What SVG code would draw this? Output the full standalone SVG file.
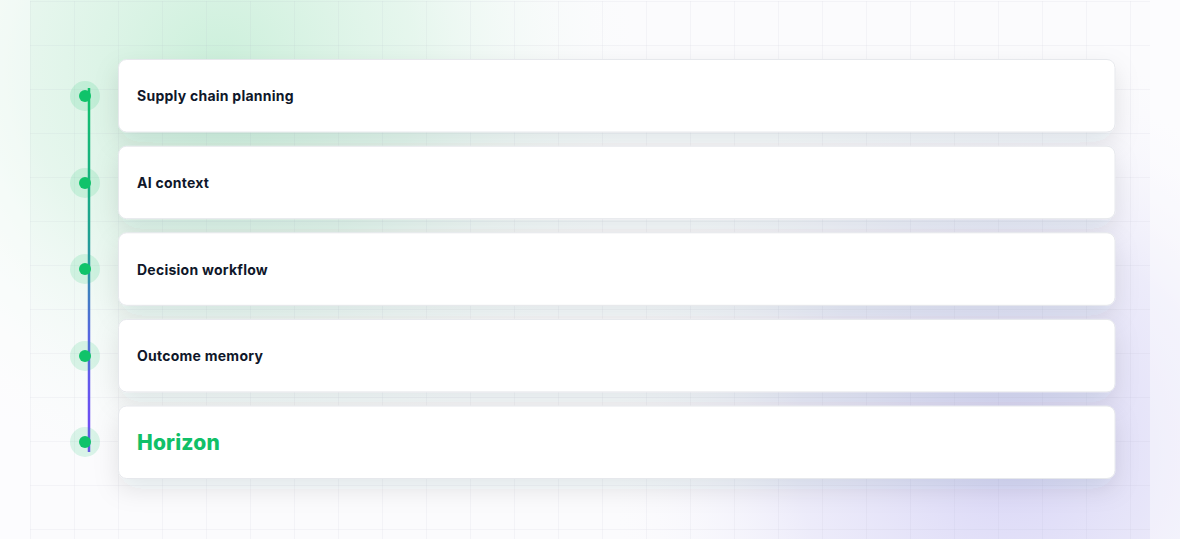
<svg xmlns="http://www.w3.org/2000/svg" width="1180" height="539" viewBox="0 0 1180 539">
  <defs>
    <radialGradient id="gGreen" cx="220" cy="70" r="440" gradientUnits="userSpaceOnUse">
      <stop offset="0" stop-color="#c9efd9" stop-opacity="0.95"/>
      <stop offset="0.45" stop-color="#d8f3e3" stop-opacity="0.6"/>
      <stop offset="1" stop-color="#ffffff" stop-opacity="0"/>
    </radialGradient>
    <radialGradient id="gPurple" cx="1010" cy="450" r="430" gradientUnits="userSpaceOnUse">
      <stop offset="0" stop-color="#d6d3f6" stop-opacity="0.95"/>
      <stop offset="0.5" stop-color="#e3e1f8" stop-opacity="0.6"/>
      <stop offset="1" stop-color="#ffffff" stop-opacity="0"/>
    </radialGradient>
    <linearGradient id="gLine" x1="0" y1="88" x2="0" y2="452" gradientUnits="userSpaceOnUse">
      <stop offset="0" stop-color="#10c36a"/>
      <stop offset="0.4" stop-color="#1fa291"/>
      <stop offset="0.7" stop-color="#5a62e6"/>
      <stop offset="1" stop-color="#7447f7"/>
    </linearGradient>
    <pattern id="grid" x="30" y="1" width="44" height="44" patternUnits="userSpaceOnUse">
      <path d="M0 0H44M0 0V44" fill="none" stroke="#9aa3b5" stroke-opacity="0.16" stroke-width="1"/>
    </pattern>
    <filter id="shadow" x="-10%" y="-60%" width="120%" height="240%">
      <feDropShadow dx="0" dy="10" stdDeviation="12" flood-color="#1e293b" flood-opacity="0.10"/>
    </filter>
    <style>
      .card { fill: #ffffff; stroke: #e6e8ec; stroke-width: 1; filter: url(#shadow); }
      .halo { fill: #10c36a; fill-opacity: 0.14; }
      .dot { fill: #10c36a; }
      .label { font-family: Inter, "Noto Sans", "DejaVu Sans", sans-serif; font-size: 14px; font-weight: 700; fill: #0f172a; letter-spacing: 0.25px; }
      .brand { font-family: Inter, "Noto Sans", "DejaVu Sans", sans-serif; font-size: 21px; font-weight: 800; fill: #10c068; letter-spacing: 0.2px; }
    </style>
  </defs>

  <rect width="1180" height="539" fill="#fbfbfd"/>
  <rect width="1180" height="539" fill="url(#gGreen)"/>
  <rect width="1180" height="539" fill="url(#gPurple)"/>
  <rect x="0" y="0" width="30" height="539" fill="#ffffff" fill-opacity="0.4"/>
  <rect x="1150" y="0" width="30" height="539" fill="#ffffff" fill-opacity="0.4"/>
  <rect x="30" y="1" width="1120" height="538" fill="url(#grid)"/>

  <g id="connectors">
    <line x1="89" y1="88" x2="89" y2="452" stroke="url(#gLine)" stroke-width="2.5"/>
  </g>

  <g id="node-supply">
    <rect class="card" x="118.5" y="59.5" width="996.5" height="72.5" rx="8"/>
    <circle class="halo" cx="85" cy="96" r="15"/>
    <circle class="dot" cx="85" cy="96" r="6"/>
    <text class="label" x="137" y="101">Supply chain planning</text>
  </g>
  <g id="node-ai">
    <rect class="card" x="118.5" y="146.2" width="996.5" height="72.5" rx="8"/>
    <circle class="halo" cx="85" cy="183" r="15"/>
    <circle class="dot" cx="85" cy="183" r="6"/>
    <text class="label" x="137" y="188">AI context</text>
  </g>
  <g id="node-decision">
    <rect class="card" x="118.5" y="232.8" width="996.5" height="72.5" rx="8"/>
    <circle class="halo" cx="85" cy="269" r="15"/>
    <circle class="dot" cx="85" cy="269" r="6"/>
    <text class="label" x="137" y="274.5">Decision workflow</text>
  </g>
  <g id="node-outcome">
    <rect class="card" x="118.5" y="319.4" width="996.5" height="72.5" rx="8"/>
    <circle class="halo" cx="85" cy="356" r="15"/>
    <circle class="dot" cx="85" cy="356" r="6"/>
    <text class="label" x="137" y="361">Outcome memory</text>
  </g>
  <g id="node-horizon">
    <rect class="card" x="118.5" y="406" width="996.5" height="72.5" rx="8"/>
    <circle class="halo" cx="85" cy="442" r="15"/>
    <circle class="dot" cx="85" cy="442" r="6"/>
    <text class="brand" x="137" y="450">Horizon</text>
  </g>
</svg>
